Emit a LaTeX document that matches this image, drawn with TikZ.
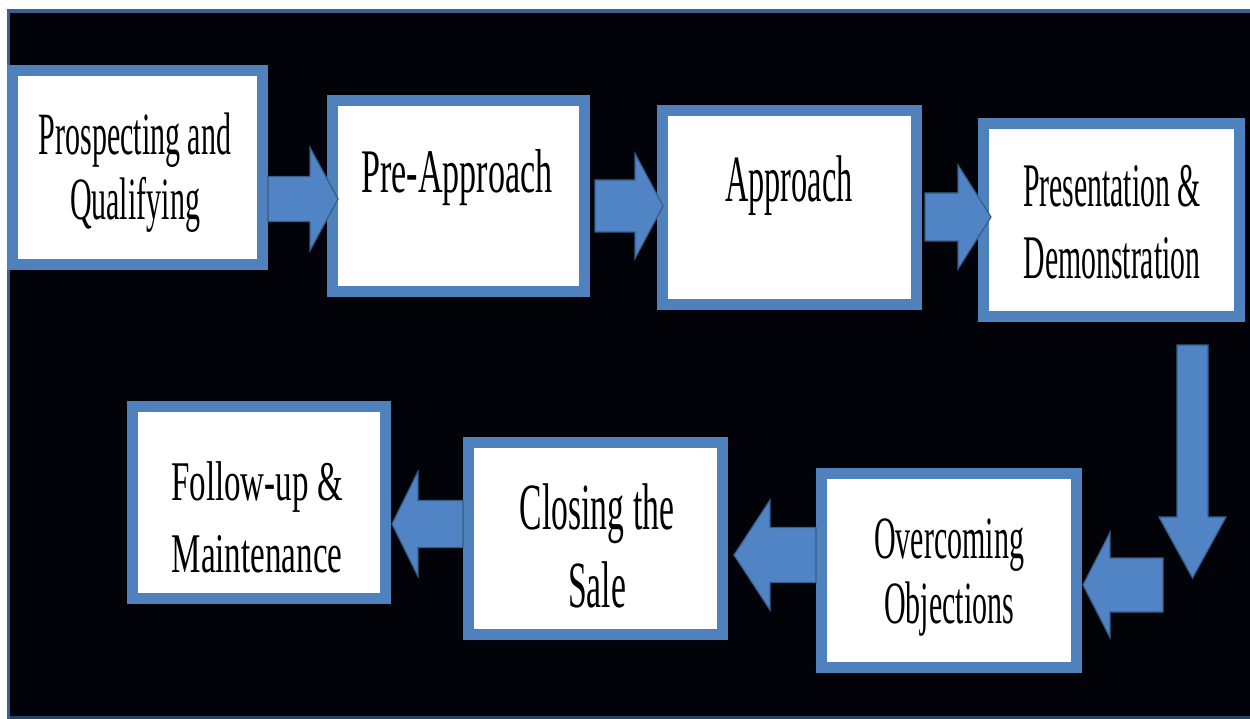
\documentclass[tikz,border=0pt]{standalone}
\usepackage{fontspec}
\usepackage{graphicx}
\setmainfont{Liberation Serif}
\definecolor{boxblue}{RGB}{79,129,189}
\definecolor{arrowfill}{RGB}{80,132,196}
\definecolor{arrowline}{RGB}{56,93,138}
\definecolor{frameblue}{RGB}{62,96,140}
\definecolor{bgblack}{RGB}{2,3,8}
\newcommand\stxt[4]{\scalebox{#1}[1]{\fontsize{#2}{#3}\selectfont\begin{tabular}[t]{@{}c@{}}#4\end{tabular}}}
\newcommand\barrowR[6]{%
  \draw[blockarrow] ({#1},{#4-#5}) -- ({#2},{#4-#5}) -- ({#2},{#4-#6}) -- ({#3},{#4})
    -- ({#2},{#4+#6}) -- ({#2},{#4+#5}) -- ({#1},{#4+#5}) -- cycle;}
\newcommand\barrowD[6]{%
  \draw[blockarrow] ({#4-#5},{#1}) -- ({#4-#5},{#2}) -- ({#4-#6},{#2}) -- ({#4},{#3})
    -- ({#4+#6},{#2}) -- ({#4+#5},{#2}) -- ({#4+#5},{#1}) -- cycle;}
\tikzset{
  stepbox/.style={draw=boxblue, line width=11pt, fill=white, inner sep=0pt, rectangle},
  txt/.style={inner sep=0pt, anchor=base, text=black},
  blockarrow/.style={fill=arrowfill, draw=arrowline, line width=1.2pt, line join=miter}
}
\begin{document}
\begin{tikzpicture}[x=1pt,y=-1pt]
\useasboundingbox (0,0) rectangle (1250,719);
% frame
\fill[white] (0,0) rectangle (1250,719);
\fill[bgblack] (7,9) rectangle (1250,719);
\fill[frameblue] (7,9) rectangle (1250,13);
\fill[frameblue] (7,9) rectangle (10,719);
\fill[frameblue!70!black] (10,716) rectangle (1250,719);
% boxes
\node[stepbox, minimum width=250pt, minimum height=194pt] (b1) at (137.5,167.5) {};
\node[stepbox, minimum width=252pt, minimum height=191pt] (b2) at (458.5,196) {};
\node[stepbox, minimum width=254pt, minimum height=194pt] (b3) at (789.5,207.5) {};
\node[stepbox, minimum width=256pt, minimum height=193pt] (b4) at (1111.5,220) {};
\node[stepbox, minimum width=255pt, minimum height=194pt] (b5) at (949,570.5) {};
\node[stepbox, minimum width=254pt, minimum height=192pt] (b6) at (595.5,538.5) {};
\node[stepbox, minimum width=253pt, minimum height=192pt] (b7) at (259,502.5) {};
% texts
\node[txt] (t1) at (135,155) {\stxt{0.5}{60}{65}{Prospecting and\\Qualifying}};
\node[txt] (t2) at (457,193) {\stxt{0.55}{62}{70}{Pre-Approach}};
\node[txt] (t3) at (789,202) {\stxt{0.49}{66}{74}{Approach}};
\node[txt] (t4) at (1112,207) {\stxt{0.48}{62}{72}{Presentation \&\\Demonstration}};
\node[txt] (t5) at (949,558) {\stxt{0.5}{60}{65}{Overcoming\\Objections}};
\node[txt] (t6) at (597,529) {\stxt{0.51}{66}{78}{Closing the\\Sale}};
\node[txt] (t7) at (257,500) {\stxt{0.59}{56}{72}{Follow-up \&\\Maintenance}};
% arrows
\barrowR{268}{310}{338}{199}{22.5}{51.5}
\barrowR{595}{635}{663}{206}{26}{52.5}
\barrowR{925}{958}{991}{217}{24}{52}
\barrowD{345}{517}{578}{1192.5}{15.5}{33.5}
\barrowR{1163}{1110}{1083}{585}{27}{52.5}
\barrowR{816}{770}{734}{555}{27.5}{55}
\barrowR{463}{418}{392}{524}{23.5}{52.5}
\end{tikzpicture}
\end{document}
